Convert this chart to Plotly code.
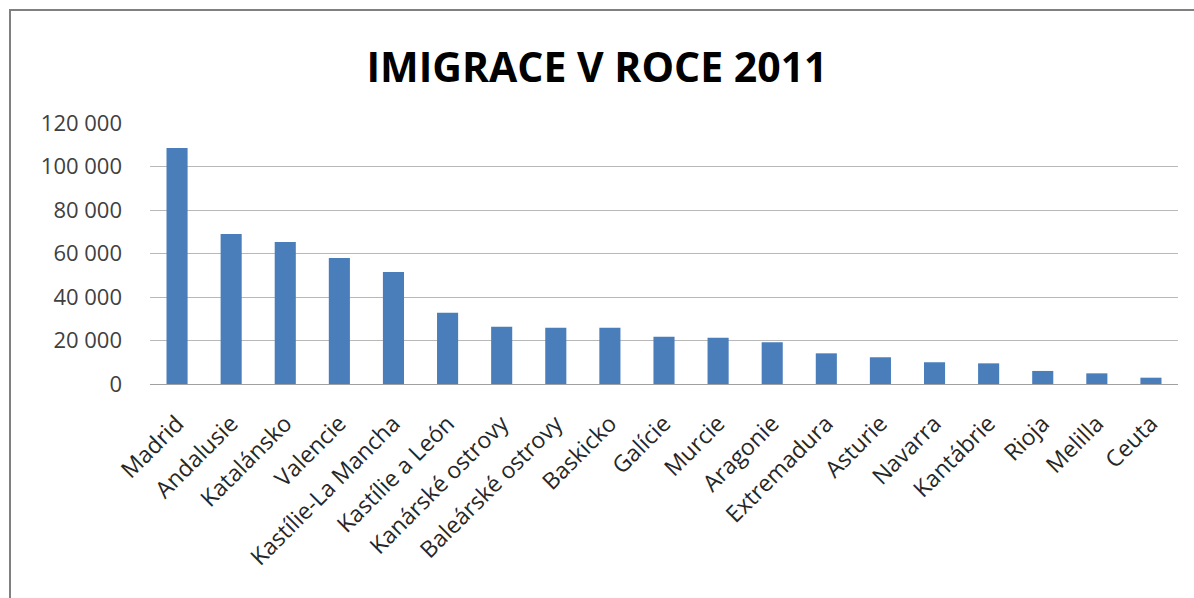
import plotly.graph_objects as go

categories = ["Madrid", "Andalusie", "Katalánsko", "Valencie", "Kastílie-La Mancha",
              "Kastílie a León", "Kanárské ostrovy", "Baleárské ostrovy", "Baskicko",
              "Galície", "Murcie", "Aragonie", "Extremadura", "Asturie", "Navarra",
              "Kantábrie", "Rioja", "Melilla", "Ceuta"]
values = [108500, 69000, 65300, 57900, 51500, 32800, 26300, 25900, 25900,
          21700, 21300, 19200, 14100, 12300, 10000, 9500, 6000, 4900, 2900]
y_ticks = [0, 20000, 40000, 60000, 80000, 100000, 120000]

fig = go.Figure(go.Bar(x=categories, y=values, marker=dict(color="#4A7EBB", line=dict(width=0))))

W, H = 1194, 598
L, R, T, B = 150, 16, 123, 214
fig.update_layout(
    width=W, height=H,
    margin=dict(l=L, r=R, t=T, b=B),
    paper_bgcolor="white", plot_bgcolor="white",
    separators=". ",
    bargap=0.61,
    showlegend=False,
    title=dict(text="<b>IMIGRACE V ROCE 2011</b>", x=0.5, xanchor="center",
               y=1 - 68 / H, yanchor="middle",
               font=dict(family="Open Sans", size=41, color="#000000")),
    font=dict(family="Open Sans", color="#404040"),
)
fig.update_yaxes(range=[0, 120000], tickvals=y_ticks, tickformat=",d",
                 showgrid=True, gridcolor="#B8B8B8", gridwidth=1,
                 zeroline=False, showline=False,
                 ticks="", ticklabelstandoff=27,
                 tickfont=dict(size=22, color="#404040"))
fig.update_xaxes(tickangle=-45, showline=True, linecolor="#A0A0A0", linewidth=1,
                 ticks="", ticklabelstandoff=16,
                 tickfont=dict(size=23, color="#262626"))

# chart frame (extends beyond the visible area like the cropped original)
pw, ph = W - L - R, H - T - B
fig.add_shape(type="rect", xref="paper", yref="paper",
              x0=(10 - L) / pw, x1=(W + 20 - L) / pw,
              y0=-(H + 20 - (H - B)) / ph, y1=((H - B) - 10) / ph,
              line=dict(color="#808080", width=2), layer="below")

fig.write_html("out.html", config={"displayModeBar": False},
               post_script="document.body.style.margin='0px';document.body.style.padding='0px';")
